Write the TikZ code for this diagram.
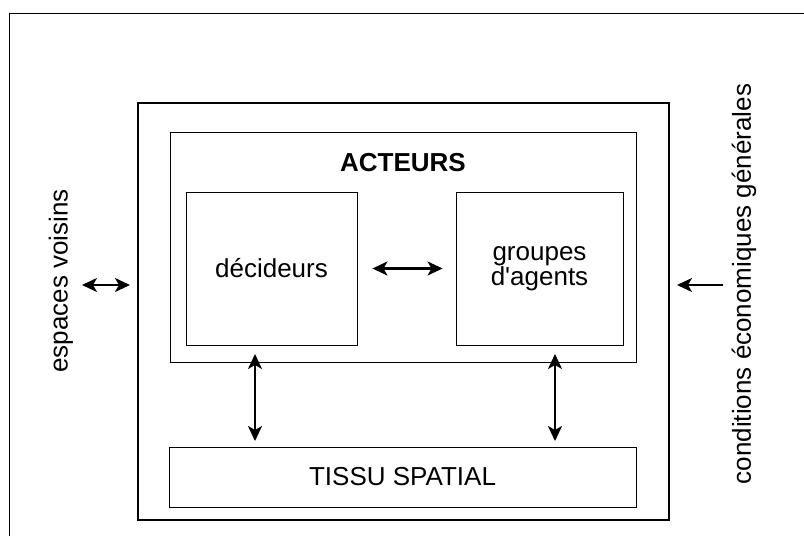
\documentclass[tikz,border=0pt]{standalone}
\usepackage{fontspec}
\setmainfont{Liberation Sans}[Ligatures=TeXOff]
\usetikzlibrary{arrows.meta}
\begin{document}
\begin{tikzpicture}[x=1pt,y=-1pt,
  thinbox/.style={draw,line width=0.9pt},
  lbl/.style={font=\fontsize{26}{22}\selectfont,align=center},
  arr/.style={line width=2.2pt,{Stealth[length=15pt,width=14pt,inset=4pt]}-{Stealth[length=15pt,width=14pt,inset=4pt]}},
  arrone/.style={line width=1.8pt,-{Stealth[length=15pt,width=14pt,inset=4pt]}}]
\useasboundingbox (0,0) rectangle (804,536);
% page frame
\draw[line width=1pt] (9,536) -- (9,13) -- (804,13);
% main box
\draw[line width=2pt] (138,103) rectangle (669,520);
% acteurs box
\draw[thinbox] (170,132) rectangle (636,362);
\node[lbl,font=\fontsize{26}{30}\selectfont\bfseries] (act) at (403,163) {ACTEURS};
\node[thinbox,minimum width=171pt,minimum height=153pt,lbl] (dec) at (271.5,268.5) {décideurs};
\node[thinbox,minimum width=167pt,minimum height=153pt,lbl] (grp) at (539.5,268.5) {groupes\\d'agents};
\coordinate (actS1) at (255,362);
\coordinate (actS2) at (555,362);
\node[thinbox,minimum width=467pt,minimum height=60pt,lbl] (tis) at (402.5,477) {TISSU SPATIAL};
\draw[arr] ([xshift=15pt]dec.east) -- ([xshift=-13pt]grp.west);
\draw[arr] ([yshift=8pt]actS1) -- (255,441);
\draw[arr] ([yshift=8pt]actS2) -- (555,441);
% side texts
\node[lbl,rotate=90] (esp) at (61,281) {espaces voisins};
\node[lbl,rotate=90] (cond) at (744,284) {conditions économiques générales};
\coordinate (mainW) at (138,285);
\coordinate (mainE) at (669,285);
\draw[arr] (82,285) -- ([xshift=-8pt]mainW);
\draw[arrone] (723,285) -- ([xshift=8pt]mainE);
\end{tikzpicture}
\end{document}
